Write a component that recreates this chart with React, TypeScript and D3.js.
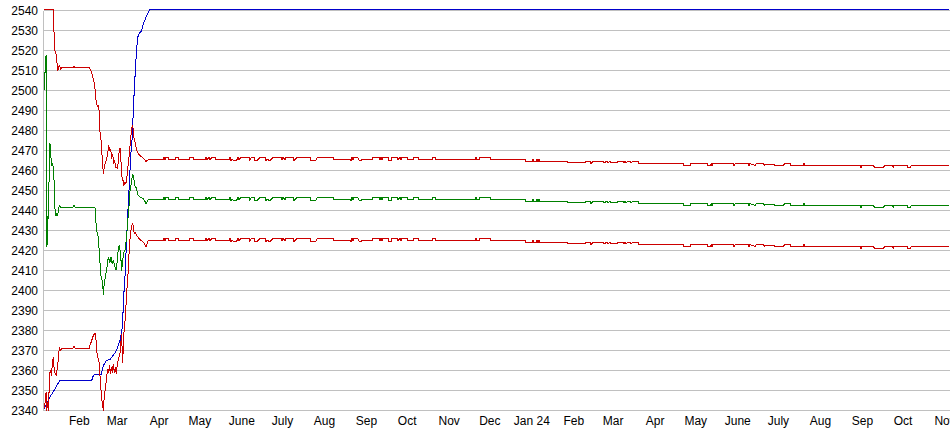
import React from "react";
import * as d3 from "d3";

const WIDTH = 950;
const HEIGHT = 435;
const START = new Date(2023, 0, 6);
const END_DAY = 668.6;

const yTickValues = [2340, 2350, 2360, 2370, 2380, 2390, 2400, 2410, 2420, 2430, 2440, 2450, 2460, 2470, 2480, 2490, 2500, 2510, 2520, 2530, 2540];
const monthLabels = ["Jan", "Feb", "Mar", "Apr", "May", "June", "July", "Aug", "Sep", "Oct", "Nov", "Dec"];

// [day offset from START, value]
const upperEarly: [number, number][] = [
  [0, 2540.5], [6.9, 2540.5], [7.4, 2529], [8.1, 2520], [8.9, 2518], [9.4, 2515], [10.1, 2510], [10.8, 2511.5],
  [11.3, 2512.5], [12.3, 2510.8], [13.1, 2511.3], [21.4, 2511.3], [22.1, 2512.2], [22.9, 2511.3], [33.4, 2511.3],
  [33.9, 2510.8], [35.2, 2509.2], [35.9, 2506.7], [36.9, 2504.2], [37.6, 2500.8], [38.4, 2495], [39.3, 2492],
  [40.1, 2492.5], [40.8, 2489.2], [41.3, 2479.2], [42.1, 2475], [42.6, 2470], [43.3, 2463], [43.8, 2458.3],
  [44.5, 2461.7], [45.3, 2464], [46.3, 2465.8], [47, 2468.3], [47.7, 2472.5], [48.5, 2470], [49.2, 2470.5],
  [49.9, 2466.7], [50.7, 2468], [51.4, 2464], [52.1, 2465], [52.9, 2461.7], [53.7, 2461.7], [54.1, 2460.8],
  [54.8, 2464], [55.6, 2470.8], [56.3, 2470.8], [56.6, 2468], [57, 2461.7], [57.6, 2456.7], [58.3, 2455],
  [59, 2452.5], [59.8, 2454.2], [60.5, 2453.5], [61, 2455], [61.7, 2460.8], [62.5, 2465], [63.5, 2472.5],
  [64.2, 2477.5], [64.7, 2481], [65.5, 2482.5], [65.9, 2480], [66.6, 2475], [67.2, 2474.2], [67.7, 2472.5],
  [68.4, 2470], [69.6, 2468.3], [70.8, 2467.5], [72.3, 2466.7], [73.8, 2465.8], [75.3, 2464.5]
];

const midEarly: [number, number][] = [
  [0, 2500], [0.5, 2505], [1, 2513], [1.5, 2517.5], [2.2, 2421.7], [2.7, 2437], [3.2, 2436], [3.7, 2454],
  [4.4, 2473.5], [5.2, 2466], [5.9, 2462.5], [6.4, 2463.5], [6.9, 2461], [7.4, 2455], [7.9, 2445], [8.3, 2437.5],
  [8.9, 2438.5], [9.4, 2437.5], [10.1, 2437.5], [10.6, 2440], [11.3, 2442.5], [12.3, 2441.7], [21.4, 2441.7],
  [22.1, 2442.5], [22.9, 2441.7], [37.6, 2441.7], [38.2, 2436], [38.6, 2430.8], [39.3, 2428.5], [40.1, 2427],
  [40.8, 2419], [41.3, 2414], [41.8, 2407.5], [42.6, 2406.5], [43.3, 2403], [43.8, 2398], [44.5, 2404],
  [45.5, 2407.5], [46.3, 2410.8], [47.4, 2416.7], [48.7, 2414], [49.4, 2416.7], [50.4, 2413.3], [51.1, 2415],
  [52.1, 2412.5], [53.1, 2410.2], [54.1, 2415], [54.8, 2420.8], [55.6, 2422.5], [56.6, 2417.5], [57.3, 2410],
  [58, 2415], [59, 2419], [60, 2420.8], [61, 2427], [61.7, 2434], [62.5, 2440], [63.5, 2450], [64.7, 2455],
  [65.5, 2458.3], [65.9, 2457.5], [67.2, 2452], [68.4, 2451], [68.9, 2448.3], [70.8, 2446.7], [73.3, 2446],
  [75.3, 2443.5]
];

const lowerEarly: [number, number][] = [
  [0, 2341.5], [0.7, 2343.5], [1.5, 2349], [2, 2340], [2.4, 2344], [3.2, 2340], [3.9, 2352.5], [4.4, 2359],
  [5.2, 2360], [5.7, 2357.5], [6.1, 2364], [6.9, 2366.7], [7.4, 2361.7], [8.1, 2359], [8.9, 2357.5], [9.8, 2361],
  [10.6, 2365.8], [11.3, 2371.7], [12.3, 2370], [13.1, 2371.2], [21.4, 2371.2], [22.1, 2372], [22.9, 2371.2],
  [33.4, 2371.2], [33.9, 2372.5], [35.2, 2375], [36.4, 2377.5], [37.6, 2378.8], [38.4, 2375], [38.9, 2369.2],
  [39.6, 2368], [40.1, 2365], [40.8, 2364], [41.3, 2357.5], [41.8, 2352.5], [42.6, 2345.8], [43.3, 2343],
  [43.8, 2340], [44.5, 2347.5], [45.3, 2350.8], [45.8, 2354], [46.3, 2357.5], [47, 2360.8], [47.7, 2359],
  [48.2, 2362.5], [48.9, 2358.5], [49.6, 2361.5], [50.4, 2359], [51.1, 2363.3], [51.9, 2359], [52.6, 2361.5],
  [53.4, 2358.5], [54.1, 2363.3], [54.8, 2365], [55.6, 2367.5], [56.6, 2370], [57, 2378.3], [57.6, 2372],
  [58.1, 2364], [58.5, 2372], [59.3, 2382.5], [60, 2386], [60.5, 2392.5], [61, 2397.5], [61.7, 2407.5],
  [62.2, 2409], [62.9, 2421], [63.9, 2429], [64.7, 2432.5], [65.5, 2433.5], [65.9, 2432], [66.6, 2428.3],
  [67.4, 2429], [68.4, 2427.5], [69.6, 2426.5], [70.8, 2425.5], [73.3, 2424.2], [75.3, 2422]
];

const blueSeries: [number, number][] = [
  [0, 2340.8], [4.4, 2346.7], [8.1, 2350.8], [11.3, 2354.7], [11.8, 2355], [35.2, 2355], [36.4, 2357.5],
  [37.6, 2358], [42.1, 2358], [43.8, 2362.5], [45, 2363.8], [45.8, 2365], [48.7, 2365.5], [50, 2366.7],
  [52.4, 2368.8], [54.1, 2371.2], [56.1, 2375], [57.6, 2380.8], [58.1, 2386], [59, 2399], [59.8, 2407.5],
  [61.5, 2434], [62.9, 2452.5], [64, 2467.5], [65.2, 2477.5], [65.9, 2490], [66.6, 2500], [67.7, 2513.5],
  [68.4, 2520.8], [69.2, 2526.7], [70.1, 2528.3], [72.1, 2530], [73.3, 2533.3], [75.3, 2536.7], [77, 2539.2],
  [78.2, 2540.5], [668, 2540.5]
];

const lateDays = [
  77, 87.8, 88.6, 89.3, 90, 91.5, 92.3, 96.7, 97.4, 98.9,
  99.6, 107, 107.7, 110, 110.7, 118.8, 119.6, 120.3, 121.8, 122.5,
  124, 126.2, 126.9, 136.5, 137.3, 138, 138.7, 140.2, 141.7, 142.4,
  143.2, 143.9, 145.4, 151.3, 152, 152.8, 155, 155.7, 157.2, 157.9,
  159.4, 163.1, 163.8, 164.6, 166.8, 167.5, 169, 174.9, 175.6, 176.4,
  177.9, 178.6, 183.8, 184.5, 185.2, 186.7, 196.3, 197, 200.7, 201.5,
  213.3, 214, 225.8, 226.6, 227.3, 228, 228.8, 231.7, 232.5, 234,
  234.7, 242.1, 242.8, 247.2, 248, 248.7, 249.4, 250.2, 253.9, 254.6,
  256.1, 256.8, 260.5, 261.3, 262.7, 263.5, 264.2, 268, 268.6, 272.3,
  273.1, 276, 276.8, 286.3, 287.1, 288.6, 289.3, 318.1, 318.8, 319.6,
  321, 321.8, 329.2, 329.9, 355, 355.7, 360.1, 360.9, 361.6, 363.1,
  363.8, 364.6, 365.3, 366, 386, 386.7, 399.3, 400, 403, 403.7,
  404.4, 405.2, 412.5, 413.3, 415.5, 416.2, 417.7, 418.5, 422.9, 423.6,
  427.3, 428, 428.8, 429.5, 431, 432.5, 433.2, 434.7, 438.4, 439.1,
  471.6, 472.3, 476.8, 477.5, 489.3, 490, 491.5, 492.3, 493, 493.7,
  508.5, 509.2, 510, 519.6, 520.3, 521, 524.7, 525.5, 530.6, 531.4,
  532.1, 538.7, 539.5, 545.4, 546.9, 550.6, 551.3, 560.1, 560.9, 561.6,
  602.2, 602.9, 603.7, 611.8, 613.3, 619.2, 620.7, 625.8, 626.6, 627.3,
  636.9, 637.6, 639.1, 639.9, 668
];

const upperLate = [
  2465.5, 2465.5, 2466.5, 2465.5, 2466.5, 2466.5, 2465.5, 2465.5, 2466.5, 2466.5,
  2465.5, 2465.5, 2466.5, 2466.5, 2465.5, 2465.5, 2466.5, 2465.5, 2466.5, 2465.5,
  2466.5, 2466.5, 2465.5, 2465.5, 2466.5, 2465, 2465.5, 2465, 2465, 2465.5,
  2466.5, 2465.5, 2466.5, 2466.5, 2465, 2466.5, 2466.5, 2465, 2465, 2465.5,
  2466.5, 2466.5, 2465, 2465.5, 2465, 2465.5, 2466.5, 2466.5, 2465.5, 2466.5,
  2465.5, 2466.5, 2466.5, 2465, 2465.5, 2466.5, 2466.5, 2465, 2465, 2466.5,
  2466.5, 2465.5, 2465.5, 2465, 2466.5, 2465.5, 2466.5, 2466.5, 2465, 2465,
  2465.5, 2465.5, 2466.5, 2466.5, 2465.5, 2466.5, 2465.5, 2466.5, 2466.5, 2465,
  2465, 2466.5, 2466.5, 2465.5, 2466.5, 2465.5, 2466.5, 2466.5, 2465.5, 2465.5,
  2466.5, 2466.5, 2465.5, 2465.5, 2466.5, 2466.5, 2465.5, 2465.5, 2466.5, 2465.5,
  2465.5, 2466.5, 2466.5, 2465.5, 2465.5, 2464.5, 2464.5, 2465.5, 2464.5, 2464.5,
  2465.5, 2464.5, 2465.5, 2464.5, 2464.5, 2464, 2464, 2464.5, 2464.5, 2463.5,
  2464, 2464.5, 2464.5, 2464, 2464.5, 2464, 2464.5, 2464, 2464, 2464.5,
  2464.5, 2464, 2464.5, 2464, 2464.5, 2464.5, 2464, 2464.5, 2464.5, 2463.5,
  2463.5, 2462.5, 2462.5, 2463.5, 2463.5, 2462.5, 2462.5, 2463.5, 2462.5, 2463.5,
  2463.5, 2462.5, 2463.5, 2463.5, 2462.5, 2463.5, 2462.5, 2463.5, 2463.5, 2462.5,
  2463, 2463, 2462.5, 2462.5, 2463.5, 2463.5, 2462.5, 2462.5, 2463.5, 2462.5,
  2462.5, 2461.5, 2462.5, 2462.5, 2461.5, 2461.5, 2462.5, 2462.5, 2461.5, 2462.5,
  2462.5, 2461.5, 2461.5, 2462.5, 2462.5
];

const midLate = [
  2445.5, 2445.5, 2446.5, 2445.5, 2446.5, 2446.5, 2445.5, 2445.5, 2446.5, 2446.5,
  2445.5, 2445.5, 2446.5, 2446.5, 2445.5, 2445.5, 2446.5, 2445.5, 2446.5, 2445.5,
  2446.5, 2446.5, 2445.5, 2445.5, 2446.5, 2445, 2445.5, 2445, 2445, 2445.5,
  2446.5, 2445.5, 2446.5, 2446.5, 2445, 2446.5, 2446.5, 2445, 2445, 2445.5,
  2446.5, 2446.5, 2445, 2445.5, 2445, 2445.5, 2446.5, 2446.5, 2445.5, 2446.5,
  2445.5, 2446.5, 2446.5, 2445, 2445.5, 2446.5, 2446.5, 2445, 2445, 2446.5,
  2446.5, 2445.5, 2445.5, 2445, 2446.5, 2445.5, 2446.5, 2446.5, 2445, 2445,
  2445.5, 2445.5, 2446.5, 2446.5, 2445.5, 2446.5, 2445.5, 2446.5, 2446.5, 2445,
  2445, 2446.5, 2446.5, 2445.5, 2446.5, 2445.5, 2446.5, 2446.5, 2445.5, 2445.5,
  2446.5, 2446.5, 2445.5, 2445.5, 2446.5, 2446.5, 2445.5, 2445.5, 2446.5, 2445.5,
  2445.5, 2446.5, 2446.5, 2445.5, 2445.5, 2444.5, 2444.5, 2445.5, 2444.5, 2444.5,
  2445.5, 2444.5, 2445.5, 2444.5, 2444.5, 2444, 2444, 2444.5, 2444.5, 2443.5,
  2444, 2444.5, 2444.5, 2444, 2444.5, 2444, 2444.5, 2444, 2444, 2444.5,
  2444.5, 2444, 2444.5, 2444, 2444.5, 2444.5, 2444, 2444.5, 2444.5, 2443.5,
  2443.5, 2442.5, 2442.5, 2443.5, 2443.5, 2442.5, 2442.5, 2443.5, 2442.5, 2443.5,
  2443.5, 2442.5, 2443.5, 2443.5, 2442.5, 2443.5, 2442.5, 2443.5, 2443.5, 2442.5,
  2443, 2443, 2442.5, 2442.5, 2443.5, 2443.5, 2442.5, 2442.5, 2443.5, 2442.5,
  2442.5, 2441.5, 2442.5, 2442.5, 2441.5, 2441.5, 2442.5, 2442.5, 2441.5, 2442.5,
  2442.5, 2441.5, 2441.5, 2442.5, 2442.5
];

const lowerLate = [
  2425, 2425, 2426, 2425, 2426, 2426, 2425, 2425, 2426, 2426,
  2425, 2425, 2426, 2426, 2425, 2425, 2426, 2425, 2426, 2425,
  2426, 2426, 2425, 2425, 2426, 2424.5, 2425, 2424.5, 2424.5, 2425,
  2426, 2425, 2426, 2426, 2424.5, 2426, 2426, 2424.5, 2424.5, 2425,
  2426, 2426, 2424.5, 2425, 2424.5, 2425, 2426, 2426, 2425, 2426,
  2425, 2426, 2426, 2424.5, 2425, 2426, 2426, 2424.5, 2424.5, 2426,
  2426, 2425, 2425, 2424.5, 2426, 2425, 2426, 2426, 2424.5, 2424.5,
  2425, 2425, 2426, 2426, 2425, 2426, 2425, 2426, 2426, 2424.5,
  2424.5, 2426, 2426, 2425, 2426, 2425, 2426, 2426, 2425, 2425,
  2426, 2426, 2425, 2425, 2426, 2426, 2425, 2425, 2426, 2425,
  2425, 2426, 2426, 2425, 2425, 2424, 2424, 2425, 2424, 2424,
  2425, 2424, 2425, 2424, 2424, 2423.5, 2423.5, 2424, 2424, 2423,
  2423.5, 2424, 2424, 2423.5, 2424, 2423.5, 2424, 2423.5, 2423.5, 2424,
  2424, 2423.5, 2424, 2423.5, 2424, 2424, 2423.5, 2424, 2424, 2423,
  2423, 2422, 2422, 2423, 2423, 2422, 2422, 2423, 2422, 2423,
  2423, 2422, 2423, 2423, 2422, 2423, 2422, 2423, 2423, 2422,
  2422.5, 2422.5, 2422, 2422, 2423, 2423, 2422, 2422, 2423, 2422,
  2422, 2421, 2422, 2422, 2421, 2421, 2422, 2422, 2421, 2422,
  2422, 2421, 2421, 2422, 2422
];

const dayDate = (d: number) => new Date(START.getTime() + d * 86400000);

export default function App() {
  const x = d3.scaleTime().domain([dayDate(0), dayDate(END_DAY)]).range([44, 950]);
  const y = d3.scaleLinear().domain([2340, 2540]).range([410.5, 10.5]);

  const withLate = (early: [number, number][], late: number[]): [number, number][] =>
    early.concat(lateDays.map((d, i) => [d, late[i]] as [number, number]));

  const upper = withLate(upperEarly, upperLate);
  const mid = withLate(midEarly, midLate);
  const lower = withLate(lowerEarly, lowerLate);

  const line = d3
    .line<[number, number]>()
    .x((p) => x(dayDate(p[0])))
    .y((p) => y(p[1]));

  const months = d3.timeMonth.range(dayDate(0), dayDate(END_DAY));
  const fmt = (dt: Date) =>
    dt.getMonth() === 0 ? `Jan ${String(dt.getFullYear()).slice(2)}` : monthLabels[dt.getMonth()];

  const font = "'Liberation Sans', Arial, sans-serif";
  const grid = "#c0c0c0";

  return (
    <svg
      width={WIDTH}
      height={HEIGHT}
      style={{ position: "absolute", left: 0, top: 0, background: "#ffffff" }}
    >
      <g shapeRendering="crispEdges">
        {yTickValues.map((v) => (
          <line key={v} x1={44} x2={950} y1={y(v)} y2={y(v)} stroke={grid} strokeWidth={1} />
        ))}
        <line x1={43.5} x2={43.5} y1={y(2540)} y2={y(2340)} stroke={grid} strokeWidth={1} />
      </g>
      <g fontFamily={font} fontSize={12} fill="#000">
        {yTickValues.map((v) => (
          <text key={v} x={38} y={y(v)} textAnchor="end" dominantBaseline="central">
            {v}
          </text>
        ))}
        {months.map((m) => (
          <text key={m.getTime()} x={x(m)} y={425} textAnchor="middle">
            {fmt(m)}
          </text>
        ))}
      </g>
      <g fill="none" strokeWidth={1} shapeRendering="crispEdges">
        <path d={line(blueSeries) || ""} stroke="#0000cc" />
        <path d={line(mid) || ""} stroke="#008000" />
        <path d={line(upper) || ""} stroke="#cc0000" />
        <path d={line(lower) || ""} stroke="#cc0000" />
      </g>
    </svg>
  );
}
